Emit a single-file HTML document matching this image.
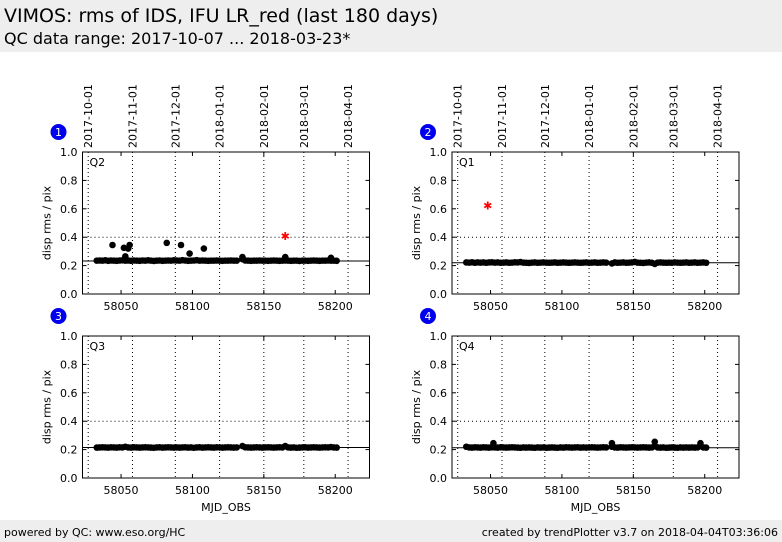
<!DOCTYPE html>
<html><head><meta charset="utf-8"><style>
body{margin:0;width:782px;height:542px;background:#fff;font-family:"Liberation Sans","DejaVu Sans",sans-serif;overflow:hidden;position:relative}
#hdr{position:absolute;left:0;top:0;width:782px;height:52px;background:#eeeeee}
#t1{position:absolute;left:4px;top:5px;font-size:19px;font-family:"DejaVu Sans",sans-serif}
#t2{position:absolute;left:4px;top:29px;font-size:16px;font-family:"DejaVu Sans",sans-serif}
#ftr{position:absolute;left:0;top:520px;width:782px;height:22px;background:#eeeeee;font-size:11px;font-family:"DejaVu Sans",sans-serif}
#fl{position:absolute;left:4px;top:6px}#fr{position:absolute;right:4px;top:6px}
svg{position:absolute;left:0;top:0}
</style></head><body>
<div id="hdr"><div id="t1">VIMOS: rms of IDS, IFU LR_red (last 180 days)</div><div id="t2">QC data range: 2017-10-07 ... 2018-03-23*</div></div>
<div id="ftr"><span id="fl">powered by QC: www.eso.org/HC</span><span id="fr">created by trendPlotter v3.7 on 2018-04-04T03:36:06</span></div>
<svg id="chart" width="782" height="542"></svg>
<script>
const days=[58033,58035,58037,58039,58041,58043,58045,58047,58049,58051,58053,58055,58057,58059,58061,58063,58065,58067,58069,58071,58073,58075,58077,58079,58081,58083,58085,58087,58089,58091,58093,58095,58097,58099,58101,58103,58105,58107,58109,58111,58113,58115,58117,58119,58121,58123,58125,58127,58129,58131,58135,58137,58139,58141,58143,58145,58147,58149,58151,58153,58155,58157,58159,58161,58163,58165,58167,58169,58171,58173,58175,58177,58179,58181,58183,58185,58187,58189,58191,58193,58195,58197,58199,58201];
const q2Vals=[0.235,0.236,0.235,0.237,0.234,0.236,0.235,0.234,0.236,0.237,0.235,0.236,0.234,0.236,0.235,0.234,0.236,0.235,0.237,0.235,0.233,0.235,0.236,0.234,0.235,0.236,0.235,0.237,0.236,0.235,0.238,0.236,0.234,0.235,0.236,0.238,0.235,0.236,0.235,0.234,0.235,0.235,0.236,0.235,0.234,0.235,0.235,0.236,0.235,0.235,0.245,0.236,0.235,0.234,0.235,0.235,0.236,0.235,0.235,0.234,0.235,0.236,0.235,0.234,0.235,0.236,0.235,0.234,0.235,0.235,0.233,0.235,0.235,0.234,0.235,0.236,0.235,0.234,0.235,0.235,0.236,0.235,0.235,0.234];
const q2OutDays=[58044,58052,58053,58055,58056,58082,58092,58098,58108,58135,58165,58197];
const q2OutVals=[0.345,0.325,0.265,0.32,0.345,0.36,0.345,0.285,0.32,0.26,0.26,0.255];
const q2Ref=0.232, q2BadDays=[58165], q2BadVals=[0.41];
const q1Vals=[0.222,0.221,0.223,0.22,0.222,0.221,0.222,0.22,0.222,0.223,0.221,0.222,0.22,0.221,0.222,0.22,0.221,0.223,0.222,0.225,0.221,0.22,0.219,0.221,0.222,0.22,0.221,0.222,0.221,0.22,0.221,0.222,0.22,0.221,0.222,0.221,0.22,0.221,0.222,0.221,0.22,0.221,0.222,0.22,0.221,0.222,0.22,0.221,0.222,0.221,0.215,0.222,0.22,0.221,0.222,0.22,0.221,0.222,0.226,0.221,0.22,0.219,0.221,0.222,0.22,0.212,0.221,0.222,0.221,0.22,0.221,0.22,0.222,0.221,0.22,0.221,0.222,0.22,0.221,0.222,0.22,0.221,0.222,0.22];
const q1Ref=0.22, q1BadDays=[58048], q1BadVals=[0.625];
const q3Vals=[0.214,0.215,0.216,0.215,0.214,0.216,0.215,0.214,0.216,0.215,0.22,0.215,0.214,0.216,0.215,0.214,0.215,0.216,0.215,0.214,0.213,0.215,0.216,0.214,0.215,0.216,0.215,0.214,0.215,0.214,0.215,0.216,0.214,0.215,0.213,0.215,0.216,0.214,0.215,0.216,0.215,0.214,0.216,0.215,0.214,0.215,0.216,0.215,0.214,0.215,0.225,0.216,0.215,0.214,0.215,0.216,0.215,0.214,0.215,0.216,0.215,0.214,0.215,0.216,0.215,0.225,0.215,0.214,0.215,0.213,0.214,0.215,0.216,0.214,0.215,0.216,0.215,0.214,0.215,0.216,0.215,0.218,0.215,0.214];
const q3Ref=0.215;
const q4Vals=[0.22,0.215,0.214,0.216,0.215,0.214,0.216,0.215,0.214,0.216,0.215,0.214,0.216,0.215,0.214,0.215,0.216,0.215,0.214,0.213,0.215,0.214,0.215,0.214,0.213,0.215,0.214,0.215,0.213,0.214,0.215,0.214,0.213,0.215,0.214,0.216,0.215,0.214,0.215,0.216,0.214,0.215,0.214,0.215,0.216,0.215,0.214,0.215,0.216,0.215,0.22,0.215,0.214,0.216,0.215,0.214,0.215,0.216,0.215,0.214,0.215,0.216,0.215,0.214,0.215,0.225,0.215,0.214,0.215,0.213,0.214,0.215,0.214,0.213,0.215,0.214,0.215,0.214,0.215,0.214,0.215,0.225,0.215,0.214];
const q4OutDays=[58052,58135,58165,58197], q4OutVals=[0.245,0.245,0.255,0.245];
const q4Ref=0.213;
const xTicks=[58050,58100,58150,58200];
const yTicks=[0,0.2,0.4,0.6,0.8,1.0];
const dateLabels=["2017-10-01","2017-11-01","2017-12-01","2018-01-01","2018-02-01","2018-03-01","2018-04-01"];
const dateMjd=[58027,58058,58088,58119,58150,58178,58209];
const X0=58023,X1=58224;
const NS='http://www.w3.org/2000/svg';
const svg=document.getElementById('chart');
function mk(t,a,p){const e=document.createElementNS(NS,t);for(const k in a)e.setAttribute(k,a[k]);(p||svg).appendChild(e);return e;}
const panels=[
 {n:'1',q:'Q2',l:82.5,t:152,v:q2Vals,od:q2OutDays,ov:q2OutVals,ref:q2Ref,bd:q2BadDays,bv:q2BadVals,dates:true,xl:false},
 {n:'2',q:'Q1',l:452,t:152,v:q1Vals,od:[],ov:[],ref:q1Ref,bd:q1BadDays,bv:q1BadVals,dates:true,xl:false},
 {n:'3',q:'Q3',l:82.5,t:336,v:q3Vals,od:[],ov:[],ref:q3Ref,bd:[],bv:[],dates:false,xl:true},
 {n:'4',q:'Q4',l:452,t:336,v:q4Vals,od:q4OutDays,ov:q4OutVals,ref:q4Ref,bd:[],bv:[],dates:false,xl:true}];
const W=287,H=142;
panels.forEach(p=>{
 const g=mk('g',{});
 
 
 const xs=d=>p.l+(d-X0)/(X1-X0)*W, ys=v=>p.t+H-v*H;
 dateMjd.forEach((d,i)=>{
  const x=xs(d);
  const gl=mk('line',{x1:x,x2:x,y1:p.t,y2:p.t+H,stroke:'#000','stroke-width':1,'stroke-dasharray':'1,3'},g);
  
  
  if(p.dates){const tx=mk('text',{x:0,y:0,transform:`translate(${x+4},${p.t-4}) rotate(-90)`,'font-size':11,'font-family':'DejaVu Sans,sans-serif'},g);tx.textContent=dateLabels[i];
   
   }
 });
 [0.4].forEach(v=>{const l=mk('line',{x1:p.l,x2:p.l+W,y1:ys(v),y2:ys(v),stroke:'#000','stroke-dasharray':'1,3'},g);
  
  });
 yTicks.forEach(v=>{const y=ys(v);
  mk('line',{x1:p.l,x2:p.l+4,y1:y,y2:y,stroke:'#000'},g);mk('line',{x1:p.l+W-4,x2:p.l+W,y1:y,y2:y,stroke:'#000'},g);
  const t=mk('text',{x:p.l-5,y:y+4,'text-anchor':'end','font-size':11,'font-family':'DejaVu Sans,sans-serif'},g);t.textContent=v.toFixed(1);
  
  });
 xTicks.forEach(d=>{const x=xs(d);
  mk('line',{x1:x,x2:x,y1:p.t+H-4,y2:p.t+H,stroke:'#000'},g);mk('line',{x1:x,x2:x,y1:p.t,y2:p.t+4,stroke:'#000'},g);
  const t=mk('text',{x:x,y:p.t+H+16,'text-anchor':'middle','font-size':11,'font-family':'DejaVu Sans,sans-serif'},g);t.textContent=d;
  
  });
 const r=mk('line',{x1:p.l,x2:p.l+W,y1:ys(p.ref),y2:ys(p.ref),stroke:'#000','stroke-width':1},g);
 
 
 days.forEach((d,i)=>{const c=mk('circle',{cx:xs(d),cy:ys(p.v[i]),r:3.3,fill:'#000'},g);
  
  });
 p.od.forEach((d,i)=>{const c=mk('circle',{cx:xs(d),cy:ys(p.ov[i]),r:3.3,fill:'#000'},g);
  
  });
 p.bd.forEach((d,i)=>{const x=xs(d),y=ys(p.bv[i]);const s=mk('text',{x:x,y:y+4,'text-anchor':'middle','font-size':11,fill:'#f00','font-weight':'bold'},g);s.textContent='✱';
  
  });
 const fr=mk('rect',{x:p.l,y:p.t,width:W,height:H,fill:'none',stroke:'#000','stroke-width':1},g);
 
 
 const q=mk('text',{x:p.l+7,y:p.t+14,'font-size':11,'font-family':'DejaVu Sans,sans-serif'},g);q.textContent=p.q;
 
 
 const yl=mk('text',{x:0,y:0,transform:`translate(${p.l-32},${p.t+H/2}) rotate(-90)`,'text-anchor':'middle','font-size':11,'font-family':'DejaVu Sans,sans-serif'},g);yl.textContent='disp rms / pix';
 
 
 if(p.xl){const xl=mk('text',{x:p.l+W/2,y:p.t+H+33,'text-anchor':'middle','font-size':11,'font-family':'DejaVu Sans,sans-serif'},g);xl.textContent='MJD_OBS';
  
  }
 const bc=mk('circle',{cx:p.l-24,cy:p.t-20,r:8,fill:'#0000ee'},g);
 
 
 const bt=mk('text',{x:p.l-24,y:p.t-16,'text-anchor':'middle','font-size':11,fill:'#fff','font-family':'DejaVu Sans,sans-serif'},g);bt.textContent=p.n;
 
 
});
</script>
</body></html>
